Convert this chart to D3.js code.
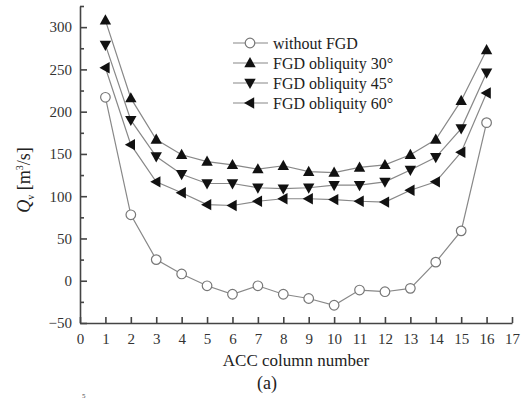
<!DOCTYPE html>
<html>
<head>
<meta charset="utf-8">
<script src="https://cdn.jsdelivr.net/npm/d3@7"></script>
<style>
  body { margin: 0; background: #fff; }
</style>
</head>
<body>
<svg id="chart" width="528" height="399"></svg>
<script>
// ACC column number 1..16
const columns = [1, 2, 3, 4, 5, 6, 7, 8, 9, 10, 11, 12, 13, 14, 15, 16];
const withoutFGD = [217, 78, 25, 8, -6, -16, -6, -16, -21, -29, -11, -13, -9, 22, 59, 187];
const obliq30 = [308, 216, 167, 149, 141, 137, 132, 136, 129, 128, 134, 137, 149, 167, 213, 273];
const obliq45 = [279, 190, 147, 126, 115, 115, 110, 109, 110, 113, 113, 117, 131, 146, 180, 246];
const obliq60 = [252, 161, 117, 104, 90, 89, 94, 97, 97, 96, 94, 93, 107, 117, 152, 222];
const seriesNames = ['without FGD', 'FGD obliquity 30°', 'FGD obliquity 45°', 'FGD obliquity 60°'];
const xTicks = d3.range(0, 18);
const yTicks = [-50, 0, 50, 100, 150, 200, 250, 300];

const FONT = 'Liberation Serif';
const svg = d3.select('#chart');
const margin = { top: 6, right: 16, bottom: 76, left: 80 };
const width = 528 - margin.left - margin.right;
const height = 399 - margin.top - margin.bottom;
const g = svg.append('g').attr('transform', `translate(${margin.left},${margin.top})`);

const x = d3.scaleLinear().domain([0, 17]).range([0, width]);
const y = d3.scaleLinear().domain([-50, 325]).range([height, 0]);

const series = [
    { name: seriesNames[0], values: withoutFGD, marker: 'circle' },
    { name: seriesNames[1], values: obliq30, marker: 'up' },
    { name: seriesNames[2], values: obliq45, marker: 'down' },
    { name: seriesNames[3], values: obliq60, marker: 'left' }
];

// axes, ticks pointing inward
const axisColor = '#444';
let yAxis = g.append('g').call(d3.axisLeft(y).tickValues(yTicks).tickSizeInner(-7).tickSizeOuter(0).tickPadding(8));
let yMinor = g.append('g').call(d3.axisLeft(y).tickValues(d3.range(-25, 326, 50)).tickSize(-4).tickFormat(''));
let xAxis = g.append('g').attr('transform', `translate(0,${height})`)
    .call(d3.axisBottom(x).tickValues(xTicks).tickSizeInner(-6).tickSizeOuter(0).tickPadding(10));
[yAxis, yMinor, xAxis].forEach(a => {
    a.attr('font-family', FONT).attr('font-size', 15);
    a.select('.domain').attr('stroke', axisColor).attr('stroke-width', 1.6);
    a.selectAll('line').attr('stroke', axisColor).attr('stroke-width', 1.6);
    a.selectAll('text').attr('fill', '#333');
});
yMinor.select('.domain').remove();

// lines and markers
const line = d3.line().x((d, i) => x(columns[i])).y(d => y(d));

function markerPath(type, s) {
    if (type === 'up') return `M0,${-s}L${s * 0.95},${s * 0.7}L${-s * 0.95},${s * 0.7}Z`;
    if (type === 'down') return `M0,${s}L${s * 0.95},${-s * 0.7}L${-s * 0.95},${-s * 0.7}Z`;
    return `M${-s},0L${s * 0.7},${-s * 0.95}L${s * 0.7},${s * 0.95}Z`;
}

function drawMarker(sel, type) {
    if (type === 'circle') {
        sel.append('circle').attr('r', 4.8)
            .attr('fill', '#fff').attr('stroke', '#777').attr('stroke-width', 1.2);
    } else {
        sel.append('path').attr('d', markerPath(type, 6)).attr('fill', '#111');
    }
}

series.forEach(s => {
    g.append('path').datum(s.values)
        .attr('d', line)
        .attr('fill', 'none')
        .attr('stroke', '#888')
        .attr('stroke-width', 1.2);
    g.selectAll(null).data(s.values).join('g')
        .attr('transform', (d, i) => `translate(${x(columns[i])},${y(d)})`)
        .each(function () { drawMarker(d3.select(this), s.marker); });
});

// legend
const legend = svg.append('g').attr('transform', 'translate(233,43)');
series.forEach((s, i) => {
    const row = legend.append('g').attr('transform', `translate(0,${i * 20})`);
    row.append('line').attr('x1', 0).attr('x2', 35).attr('stroke', '#888').attr('stroke-width', 1.2);
    drawMarker(row.append('g').attr('transform', 'translate(17,0)'), s.marker);
    row.append('text').attr('x', 40).attr('dy', '0.35em')
        .attr('font-family', FONT).attr('font-size', 16).attr('fill', '#222').text(s.name);
});

// axis titles
svg.append('text').attr('x', margin.left + x(8.5)).attr('y', 366)
    .attr('text-anchor', 'middle').attr('font-family', FONT).attr('font-size', 17).attr('fill', '#222')
    .text('ACC column number');
svg.append('text').attr('x', 267).attr('y', 389)
    .attr('text-anchor', 'middle').attr('font-family', FONT).attr('font-size', 18).attr('fill', '#222')
    .text('(a)');

const yTitle = svg.append('text')
    .attr('transform', 'translate(30,180) rotate(-90)')
    .attr('text-anchor', 'middle').attr('font-family', FONT).attr('font-size', 18).attr('fill', '#222');
yTitle.append('tspan').attr('font-style', 'italic').text('Q');
yTitle.append('tspan').attr('dy', 4).attr('font-size', 10).text('v');
yTitle.append('tspan').attr('dy', -4).text('  [m');
yTitle.append('tspan').attr('dy', -7).attr('font-size', 10).text('3');
yTitle.append('tspan').attr('dy', 7).text('/s]');

// cropped caption fragment at bottom edge
svg.append('text').attr('x', 82).attr('y', 398).attr('font-family', FONT).attr('font-size', 7).attr('fill', '#444').text('5');
</script>
</body>
</html>
